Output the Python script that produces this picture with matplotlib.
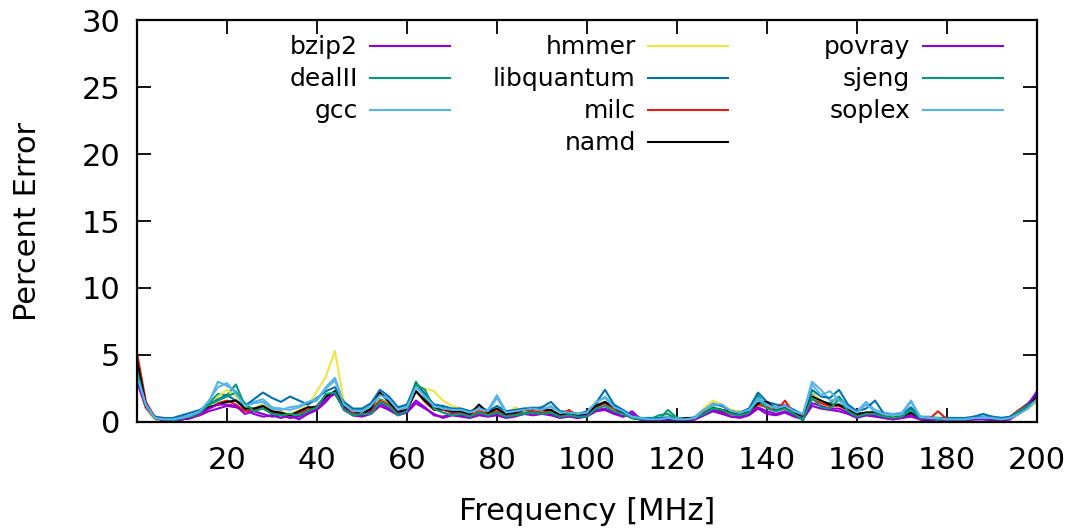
import numpy as np
import matplotlib
matplotlib.use("Agg")
import matplotlib.pyplot as plt

# frequency axis (MHz), one sample every 2 MHz
freq = np.arange(0, 201, 2)

# percent error per benchmark
bzip2 = [3.3, 1.0, 0.2, 0.1, 0.1, 0.2, 0.3, 0.5, 0.8, 1.0,
         1.2, 1.1, 0.9, 0.6, 0.4, 0.5, 0.3, 0.5, 0.2, 0.6,
         0.9, 1.5, 2.3, 0.9, 0.5, 0.4, 0.6, 1.2, 0.9, 0.5,
         0.7, 1.4, 1.0, 0.6, 0.3, 0.5, 0.4, 0.3, 0.5, 0.4,
         0.5, 0.3, 0.4, 0.6, 0.5, 0.6, 0.5, 0.3, 0.4, 0.3,
         0.4, 0.8, 0.9, 0.6, 0.4, 0.8, 0.2, 0.1, 0.1, 0.2,
         0.1, 0.1, 0.2, 0.5, 0.8, 0.6, 0.4, 0.3, 0.5, 1.0,
         0.6, 0.5, 0.7, 0.4, 0.2, 1.2, 1.0, 0.9, 0.8, 0.6,
         0.3, 0.5, 0.4, 0.3, 0.2, 0.3, 0.4, 0.2, 0.1, 0.2,
         0.1, 0.1, 0.1, 0.2, 0.2, 0.1, 0.1, 0.2, 0.6, 1.1,
         2.2]
dealII = [4.2, 1.3, 0.3, 0.2, 0.1, 0.2, 0.3, 0.6, 1.4, 2.1,
          2.0, 2.8, 1.2, 1.0, 1.3, 0.8, 0.6, 0.5, 0.6, 0.9,
          1.2, 2.0, 2.2, 1.0, 0.6, 0.5, 0.8, 1.7, 1.4, 0.6,
          0.9, 3.0, 1.8, 0.9, 1.1, 0.7, 0.9, 0.5, 0.8, 0.6,
          0.9, 0.5, 0.6, 0.7, 0.8, 0.7, 0.9, 0.5, 0.6, 0.5,
          0.5, 1.3, 1.4, 0.9, 0.7, 0.3, 0.2, 0.2, 0.2, 0.9,
          0.3, 0.2, 0.3, 0.7, 1.1, 0.9, 0.8, 0.5, 0.9, 2.0,
          1.1, 1.0, 1.2, 0.6, 0.1, 2.2, 1.5, 1.4, 1.9, 1.1,
          0.6, 0.7, 0.8, 0.5, 0.4, 0.6, 1.0, 0.4, 0.3, 0.3,
          0.3, 0.2, 0.2, 0.3, 0.4, 0.3, 0.3, 0.3, 0.8, 1.3,
          1.8]
gcc = [3.6, 1.4, 0.4, 0.2, 0.2, 0.4, 0.5, 0.8, 1.5, 3.0,
       2.7, 2.3, 1.3, 1.5, 1.7, 1.1, 1.0, 0.9, 1.1, 1.4,
       1.6, 2.6, 3.3, 1.4, 0.9, 0.9, 1.3, 2.1, 1.8, 1.0,
       1.2, 2.7, 2.0, 1.3, 1.1, 1.0, 1.0, 0.8, 1.1, 0.9,
       2.0, 0.8, 0.9, 1.0, 1.1, 1.0, 1.1, 0.8, 0.8, 0.6,
       0.7, 1.4, 1.9, 1.2, 0.8, 0.5, 0.3, 0.3, 0.3, 0.4,
       0.3, 0.2, 0.4, 1.0, 1.4, 1.2, 0.9, 0.7, 1.0, 1.8,
       1.4, 1.1, 1.3, 0.9, 0.6, 3.0, 2.4, 1.6, 1.7, 1.2,
       0.8, 1.5, 0.9, 0.7, 0.6, 0.7, 1.6, 0.4, 0.4, 0.3,
       0.3, 0.3, 0.2, 0.4, 0.4, 0.4, 0.3, 0.3, 0.7, 1.1,
       1.6]
hmmer = [4.0, 1.0, 0.2, 0.1, 0.1, 0.2, 0.3, 0.6, 1.1, 1.9,
         2.4, 1.9, 1.1, 1.0, 1.3, 1.0, 0.8, 0.6, 0.9, 1.2,
         2.3, 3.4, 5.3, 1.5, 0.9, 0.7, 1.0, 1.6, 1.4, 0.9,
         1.1, 2.6, 2.5, 2.3, 1.6, 1.2, 1.0, 0.7, 0.8, 0.6,
         0.9, 0.5, 1.1, 0.8, 1.0, 0.7, 0.9, 0.6, 0.7, 0.5,
         0.6, 1.1, 1.5, 0.9, 0.7, 0.4, 0.2, 0.2, 0.2, 0.3,
         0.2, 0.2, 0.3, 1.0, 1.6, 1.3, 0.9, 0.8, 0.9, 1.3,
         1.2, 0.9, 1.0, 0.8, 0.6, 2.3, 1.5, 1.1, 1.3, 0.9,
         0.5, 0.7, 0.6, 0.5, 0.4, 0.5, 0.7, 0.3, 0.3, 0.2,
         0.2, 0.2, 0.1, 0.2, 0.3, 0.2, 0.2, 0.2, 0.6, 1.0,
         1.5]
libquantum = [3.8, 1.2, 0.4, 0.3, 0.3, 0.5, 0.7, 0.9, 1.3, 1.7,
              2.0, 1.6, 1.2, 1.7, 2.2, 1.8, 1.5, 1.9, 1.6, 1.3,
              1.8, 2.3, 2.6, 1.5, 1.0, 1.0, 1.4, 2.4, 1.9, 1.1,
              1.3, 2.9, 2.1, 1.3, 1.2, 1.0, 1.0, 0.8, 1.0, 0.8,
              1.2, 0.8, 0.9, 1.0, 1.0, 1.1, 1.5, 0.8, 0.7, 0.6,
              0.8, 1.4, 2.4, 1.3, 0.9, 0.5, 0.3, 0.3, 0.3, 0.3,
              0.2, 0.2, 0.3, 0.9, 1.3, 1.2, 0.8, 0.7, 1.0, 2.2,
              1.5, 1.3, 1.2, 0.9, 0.5, 2.4, 1.9, 1.8, 2.4, 1.3,
              0.8, 1.0, 1.6, 0.6, 0.5, 0.6, 1.1, 0.4, 0.3, 0.3,
              0.3, 0.3, 0.3, 0.4, 0.6, 0.4, 0.3, 0.4, 0.9, 1.4,
              2.0]
milc = [5.2, 1.5, 0.3, 0.2, 0.1, 0.2, 0.3, 0.6, 1.0, 1.4,
        1.6, 1.3, 0.8, 0.9, 1.1, 0.7, 0.6, 0.5, 0.7, 0.9,
        1.2, 1.9, 2.2, 1.1, 0.7, 0.5, 0.9, 1.6, 1.3, 0.7,
        0.9, 2.3, 1.5, 0.9, 0.9, 0.7, 0.7, 0.5, 0.8, 0.6,
        0.8, 0.5, 0.6, 0.9, 0.8, 0.7, 0.8, 0.5, 0.9, 0.4,
        0.5, 1.1, 1.4, 1.0, 0.6, 0.3, 0.2, 0.1, 0.2, 0.2,
        0.1, 0.1, 0.2, 0.7, 0.9, 0.8, 0.6, 0.5, 0.7, 1.3,
        1.1, 0.8, 1.6, 0.6, 0.4, 1.7, 1.4, 1.2, 1.2, 0.9,
        0.5, 0.7, 0.6, 0.4, 0.3, 0.4, 0.6, 0.3, 0.2, 0.8,
        0.2, 0.2, 0.1, 0.2, 0.3, 0.2, 0.2, 0.3, 0.9, 1.3,
        1.9]
namd = [4.6, 1.3, 0.3, 0.2, 0.1, 0.2, 0.3, 0.7, 1.1, 1.3,
        1.5, 1.6, 1.0, 1.0, 1.2, 0.8, 0.7, 0.5, 0.8, 1.1,
        1.1, 1.9, 2.3, 1.2, 0.8, 0.6, 1.0, 2.2, 1.5, 0.8,
        0.9, 2.3, 1.6, 1.0, 1.0, 0.8, 0.8, 0.6, 1.3, 0.7,
        1.0, 0.6, 0.7, 0.9, 1.0, 0.9, 0.9, 0.5, 0.7, 0.5,
        0.6, 1.2, 1.5, 1.1, 0.7, 0.3, 0.2, 0.2, 0.2, 0.2,
        0.2, 0.3, 0.3, 0.6, 1.0, 0.9, 0.7, 0.5, 0.8, 1.4,
        1.5, 0.9, 1.1, 0.7, 0.3, 1.9, 1.6, 1.3, 1.3, 0.9,
        0.6, 0.7, 0.7, 0.4, 0.3, 0.4, 0.7, 0.2, 0.2, 0.3,
        0.2, 0.2, 0.1, 0.3, 0.3, 0.2, 0.2, 0.3, 0.7, 1.2,
        1.9]
povray = [3.0, 1.1, 0.3, 0.1, 0.1, 0.2, 0.3, 0.6, 1.0, 1.3,
          1.3, 1.2, 0.6, 0.8, 0.6, 0.4, 0.5, 0.3, 0.4, 0.7,
          1.0, 1.7, 2.1, 1.0, 0.5, 0.5, 0.7, 1.4, 1.0, 0.6,
          0.8, 1.6, 1.1, 0.5, 0.4, 0.6, 0.5, 0.4, 0.6, 0.5,
          0.6, 0.4, 0.5, 0.6, 0.7, 0.6, 0.6, 0.4, 0.5, 0.3,
          0.5, 0.9, 1.0, 0.7, 0.4, 0.6, 0.1, 0.1, 0.2, 0.1,
          0.1, 0.1, 0.2, 0.5, 0.9, 0.7, 0.4, 0.4, 0.6, 1.1,
          0.8, 0.6, 0.8, 0.5, 0.3, 1.4, 1.2, 1.0, 1.0, 0.7,
          0.4, 0.5, 0.5, 0.3, 0.2, 0.3, 0.5, 0.2, 0.2, 0.2,
          0.1, 0.2, 0.1, 0.2, 0.2, 0.2, 0.1, 0.2, 0.7, 1.3,
          2.3]
sjeng = [3.9, 1.2, 0.3, 0.2, 0.1, 0.3, 0.4, 0.7, 1.3, 1.6,
         1.9, 2.2, 1.4, 0.8, 1.0, 0.6, 0.5, 0.6, 0.5, 0.8,
         1.1, 2.1, 2.2, 0.9, 0.5, 0.6, 0.6, 1.5, 1.2, 0.5,
         0.8, 2.8, 2.4, 1.0, 0.7, 0.5, 0.6, 0.4, 0.7, 0.5,
         0.7, 0.4, 0.5, 0.6, 0.7, 0.6, 0.7, 0.4, 0.5, 0.4,
         0.4, 1.0, 1.2, 0.8, 0.6, 0.3, 0.2, 0.2, 0.5, 0.6,
         0.2, 0.2, 0.3, 0.6, 1.0, 0.9, 0.6, 0.5, 0.7, 1.7,
         1.0, 0.8, 1.0, 0.6, 0.2, 1.8, 1.1, 1.0, 1.7, 0.8,
         0.4, 0.6, 0.6, 0.4, 0.3, 0.4, 0.9, 0.3, 0.3, 0.2,
         0.2, 0.2, 0.2, 0.3, 0.3, 0.3, 0.2, 0.3, 0.8, 1.2,
         1.7]
soplex = [3.4, 1.3, 0.3, 0.2, 0.2, 0.3, 0.5, 0.8, 1.6, 2.6,
          2.9, 2.1, 1.2, 1.4, 1.5, 1.0, 0.9, 1.1, 1.2, 1.5,
          1.7, 2.5, 3.1, 1.3, 0.8, 0.8, 1.2, 2.0, 1.7, 0.9,
          1.1, 2.6, 1.9, 1.2, 1.0, 0.9, 0.9, 0.7, 1.0, 0.8,
          1.8, 0.7, 0.8, 0.9, 1.0, 0.9, 1.2, 0.7, 0.7, 0.6,
          0.7, 1.5, 1.8, 1.1, 0.8, 0.4, 0.3, 0.2, 0.2, 0.3,
          0.2, 0.2, 0.3, 0.9, 1.3, 1.3, 0.8, 0.7, 0.9, 1.7,
          1.3, 1.0, 1.2, 0.8, 0.6, 2.8, 2.0, 2.3, 1.6, 1.1,
          0.7, 1.3, 0.8, 0.6, 0.5, 0.6, 1.5, 0.4, 0.3, 0.3,
          0.2, 0.2, 0.2, 0.3, 0.3, 0.3, 0.2, 0.3, 0.6, 1.0,
          1.7]

names = ['bzip2', 'dealII', 'gcc', 'hmmer', 'libquantum', 'milc', 'namd',
         'povray', 'sjeng', 'soplex']
series = [bzip2, dealII, gcc, hmmer, libquantum, milc, namd,
          povray, sjeng, soplex]
# gnuplot default line colours
colors = ['#9400d3', '#009e73', '#56b4e9', '#f0e442', '#0072b2', '#e51e10',
          '#000000', '#9400d3', '#009e73', '#56b4e9']

plt.rcParams['font.family'] = 'DejaVu Sans'

fig = plt.figure(figsize=(10.78, 5.31), dpi=100)
ax = fig.add_axes([0.127, 0.2053, 0.835, 0.757])

lines = []
for name, vals, c in zip(names, series, colors):
    ln, = ax.plot(freq, vals, color=c, lw=1.5, label=name)
    lines.append(ln)

ax.set_xlim(0, 200)
ax.set_ylim(0, 30)
ax.set_xticks(np.arange(20, 201, 20))
ax.set_yticks(np.arange(0, 31, 5))
ax.tick_params(direction='in', length=10, width=1.3, labelsize=22,
               top=True, right=True, pad=12)
ax.tick_params(axis='x', pad=17)
for s in ax.spines.values():
    s.set_linewidth(1.6)

ax.set_xlabel('Frequency [MHz]', fontsize=22, labelpad=16)
ax.set_ylabel('Percent Error', fontsize=22, labelpad=28)

# legend in three columns, key to the right of a right-aligned label
groups = [(0, 3, 0.348), (3, 7, 0.657), (7, 10, 0.962)]
for k, (a, b, xr) in enumerate(groups):
    leg = ax.legend(handles=lines[a:b], loc='upper right',
                    bbox_to_anchor=(xr, 0.962), frameon=False,
                    markerfirst=False, fontsize=18, handlelength=3.2,
                    handletextpad=0.5, labelspacing=0.32, borderpad=0,
                    borderaxespad=0)
    if k < 2:
        ax.add_artist(leg)

fig.savefig('out.png', dpi=100)
